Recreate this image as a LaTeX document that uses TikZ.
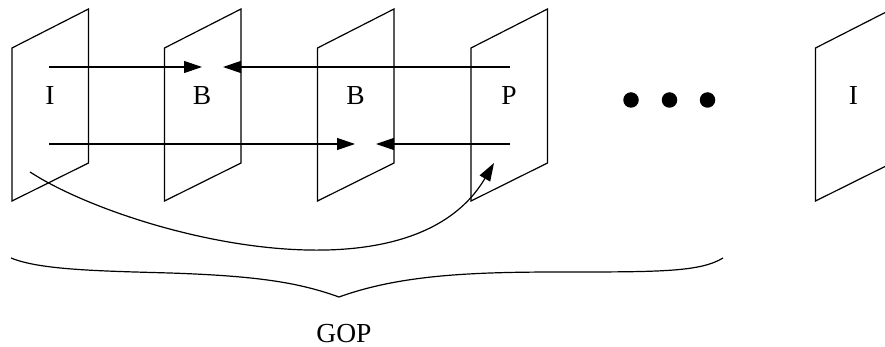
\documentclass[tikz,border=0pt]{standalone}
\usepackage{fontspec}
\setmainfont{Liberation Serif}
\usetikzlibrary{arrows.meta}
\begin{document}
\begin{tikzpicture}[x=1pt,y=-1pt,
  line width=1.2pt,
  frame/.style={draw,line join=miter},
  lbl/.style={font=\fontsize{27.5}{30}\selectfont,inner sep=0pt,anchor=base},
  arr/.style={-{Triangle[length=18pt,width=12pt]}},
  dot/.style={circle,fill,inner sep=0pt,minimum size=15.5pt}]
\useasboundingbox (0,0) rectangle (885,347);
\clip (0,0) rectangle (885,347);
% frames
\foreach \x/\n in {12/f1,164.5/f2,317.5/f3,471/f4,815.5/f5}{
  \draw[frame] (\x,48) -- ++(76.5,-39) -- ++(0,154) -- ++(-76.5,38) -- cycle;
}
% labels
\node[lbl] (l1) at (50,105) {I};
\node[lbl] (l2) at (202,105) {B};
\node[lbl] (l3) at (355.5,105) {B};
\node[lbl] (l4) at (509,105) {P};
\node[lbl] (l5) at (853.5,105) {I};
% arrow endpoints
\coordinate (a1s) at (49,67);
\coordinate (a1e) at (202,67);
\coordinate (a2s) at (510,67);
\coordinate (a2e) at (223,67);
\coordinate (b1s) at (49,144);
\coordinate (b1e) at (355,144);
\coordinate (b2s) at (510,144);
\coordinate (b2e) at (376,144);
\coordinate (cs) at (30,172);
\coordinate (ce) at (494,163);
\draw[arr] (a1s) -- (a1e);
\draw[arr] (a2s) -- (a2e);
\draw[arr] (b1s) -- (b1e);
\draw[arr] (b2s) -- (b2e);
\draw[arr] (cs) .. controls (124,233) and (408,309) .. (ce);
% dots
\node[dot] (d1) at (631,100) {};
\node[dot] (d2) at (669.5,100) {};
\node[dot] (d3) at (707.5,100) {};
% brace
\coordinate (bl) at (11,258);
\coordinate (bt) at (339,297);
\coordinate (br) at (723,258);
\draw (bl) .. controls (40,270) and (100,271) .. (170,273)
  .. controls (260,276) and (300,283) .. (bt)
  .. controls (400,275) and (470,272) .. (560,272)
  .. controls (660,272) and (700,272) .. (br);
\node[lbl] (gop) at (344,342) {GOP};
\end{tikzpicture}
\end{document}
